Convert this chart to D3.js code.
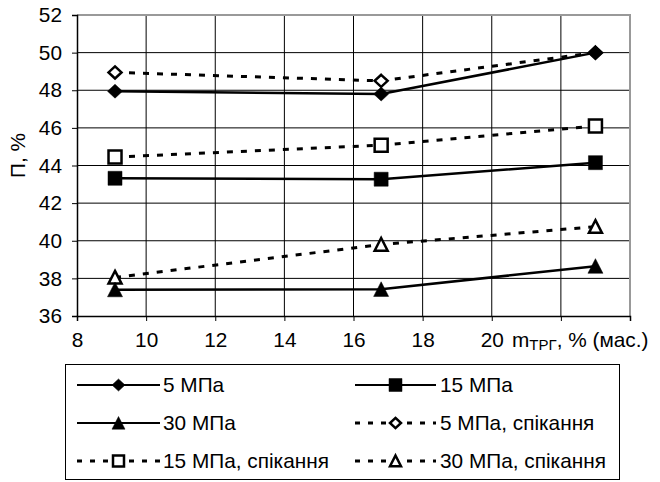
<!DOCTYPE html>
<html><head><meta charset="utf-8">
<script src="https://cdn.jsdelivr.net/npm/d3@7"></script>
<style>
html,body{margin:0;padding:0;background:#fff;}
svg{display:block;font-family:"Liberation Sans",Arial,sans-serif;}
</style></head>
<body><svg id="chart" width="660" height="482"></svg>
<script>
const xValues = [9.1, 16.8, 23.0];
const p5   = [47.95, 47.8, 50.0];
const p15  = [43.32, 43.27, 44.15];
const p30  = [37.4, 37.42, 38.65];
const p5s  = [48.95, 48.5, 50.0];
const p15s = [44.45, 45.08, 46.1];
const p30s = [38.05, 39.8, 40.75];
const seriesNames = ["5 МПа","15 МПа","30 МПа","5 МПа, спікання","15 МПа, спікання","30 МПа, спікання"];
const xTicks = [8,10,12,14,16,18,20,22,24];
const xTickLabels = ["8","10","12","14","16","18","20","",""];
const yTicks = [36,38,40,42,44,46,48,50,52];

const series = [
  {name:seriesNames[0], vals:p5,  marker:"diamond", filled:true,  dashed:false},
  {name:seriesNames[1], vals:p15, marker:"square",  filled:true,  dashed:false},
  {name:seriesNames[2], vals:p30, marker:"triangle",filled:true,  dashed:false},
  {name:seriesNames[3], vals:p5s, marker:"diamond", filled:false, dashed:true},
  {name:seriesNames[4], vals:p15s,marker:"square",  filled:false, dashed:true},
  {name:seriesNames[5], vals:p30s,marker:"triangle",filled:false, dashed:true}
];

const FS = 20.8;
const svg = d3.select("#chart");
const L=77, R=630, T=15, B=316;
const x = d3.scaleLinear().domain([8,24]).range([L,R]);
const y = d3.scaleLinear().domain([36,52]).range([B,T]);

// grid
const g = svg.append("g");
g.selectAll(".vg").data(xTicks.slice(1,-1)).enter().append("line")
  .attr("x1",d=>x(d)).attr("x2",d=>x(d)).attr("y1",T).attr("y2",B)
  .attr("stroke","#000").attr("stroke-width",1);
g.selectAll(".hg").data(yTicks.slice(1,-1)).enter().append("line")
  .attr("x1",L).attr("x2",R).attr("y1",d=>y(d)).attr("y2",d=>y(d))
  .attr("stroke","#000").attr("stroke-width",1);
svg.append("path").attr("d",`M${L},${T}H${R}V${B}`).attr("fill","none")
  .attr("stroke","#999").attr("stroke-width",2);

// axes
const yAxis = d3.axisLeft(y).tickValues(yTicks).tickSize(5).tickPadding(10);
const ya = svg.append("g").attr("transform",`translate(${L},0)`).call(yAxis);
const xAxis = d3.axisBottom(x).tickValues(xTicks).tickSize(5).tickPadding(11)
  .tickFormat((d,i)=>xTickLabels[i]);
const xa = svg.append("g").attr("transform",`translate(0,${B})`).call(xAxis);
[ya,xa].forEach(a=>{
  a.select(".domain").attr("stroke","#000").attr("stroke-width",1.5);
  a.selectAll(".tick line").attr("stroke","#000").attr("stroke-width",1);
  a.selectAll("text").attr("font-size",FS).attr("fill","#000")
    .attr("font-family","'Liberation Sans',Arial,sans-serif");
});

// axis titles
const xt = svg.append("text").attr("x",512).attr("y",347)
  .attr("font-size",FS).attr("fill","#000");
xt.append("tspan").text("m");
xt.append("tspan").attr("font-size",15).attr("dy",3).text("ТРГ");
xt.append("tspan").attr("dy",-3).text(", % (мас.)");

svg.append("text").attr("transform","translate(25,178) rotate(-90)")
  .attr("font-size",FS).attr("fill","#000").text("П, %");

// markers
function markerPath(type, w){
  const h = w/2;
  if(type==="diamond") return `M0,${-h*0.93}L${h},0L0,${h*0.93}L${-h},0Z`;
  if(type==="square") return `M${-h},${-h}H${h}V${h}H${-h}Z`;
  return `M0,${-h}L${h},${h*0.95}H${-h}Z`;
}
function drawMarker(sel, sr, cx, cy, w){
  sel.append("path").attr("d",markerPath(sr.marker,w))
    .attr("transform",`translate(${cx},${cy})`)
    .attr("fill",sr.filled?"#000":"#fff")
    .attr("stroke","#000").attr("stroke-width",sr.filled?0.5:2.5)
    .attr("stroke-linejoin","miter");
}

const line = d3.line().x((d,i)=>x(xValues[i])).y(d=>y(d));
const order = [3,4,5,0,1,2];
const plot = svg.append("g");
order.forEach(k=>{
  const sr = series[k];
  plot.append("path").datum(sr.vals).attr("d",line).attr("fill","none")
    .attr("stroke","#000").attr("stroke-width",sr.dashed?3:2.5)
    .attr("stroke-dasharray",sr.dashed?"6,8":null);
});
order.forEach(k=>{
  const sr = series[k];
  sr.vals.forEach((v,i)=>{
    const sz = sr.filled ? (sr.marker==="square"?14:15) : 13;
    drawMarker(plot, sr, x(xValues[i]), y(v), sz);
  });
});

// legend
const lg = svg.append("g");
lg.append("rect").attr("x",65.5).attr("y",364.5).attr("width",554).attr("height",115)
  .attr("fill","#fff").attr("stroke","#000").attr("stroke-width",1);
const rowsY = [385,423,461];
const cols = [{x1:77,x2:160,tx:163},{x1:355,x2:436,tx:440}];
series.forEach((sr,i)=>{
  const c = cols[i%2], ry = rowsY[Math.floor(i/2)];
  lg.append("line").attr("x1",c.x1).attr("x2",c.x2).attr("y1",ry).attr("y2",ry)
    .attr("stroke","#000").attr("stroke-width",sr.dashed?3:2)
    .attr("stroke-dasharray",sr.dashed?"5,8":null);
  const sz = sr.filled ? 13 : 11;
  drawMarker(lg, sr, (c.x1+c.x2)/2, ry, sz);
  lg.append("text").attr("x",c.tx).attr("y",ry+7).attr("font-size",FS)
    .attr("fill","#000").text(sr.name);
});
</script></body></html>
